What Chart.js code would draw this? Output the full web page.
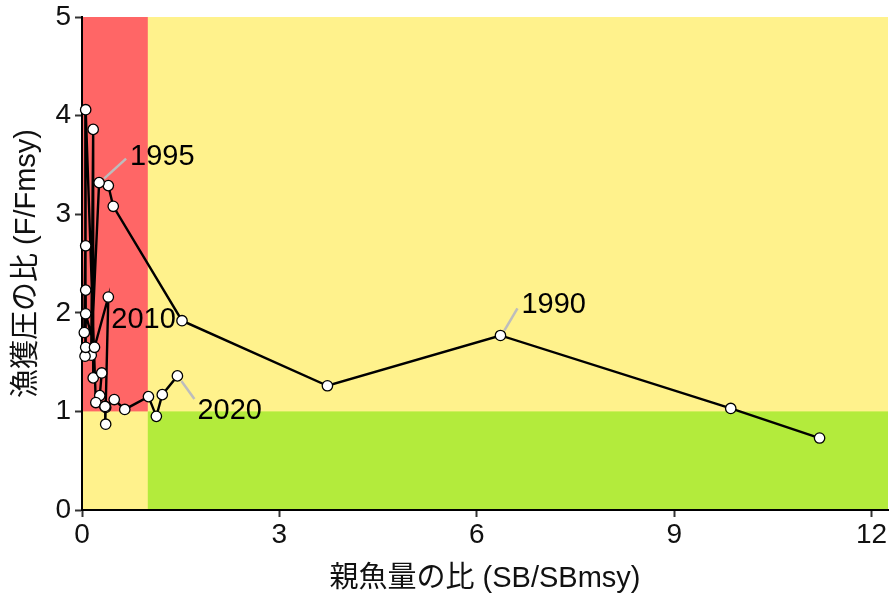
<!DOCTYPE html>
<html><head><meta charset="utf-8">
<script src="https://cdn.jsdelivr.net/npm/chart.js@4"></script>
<style>html,body{margin:0;padding:0;background:#fff}#wrap{width:889px;height:599px}</style>
</head><body><div id="wrap"><canvas id="c" width="889" height="599"></canvas></div>
<script>
const years = [1988,1989,1990,1991,1992,1993,1994,1995,1996,1997,1998,1999,2000,2001,2002,2003,2004,2005,2006,2007,2008,2009,2010,2011,2012,2013,2014,2015,2016,2017,2018,2019,2020];
const sbRatio = [11.21,9.86,6.36,3.73,1.52,0.475,0.40,0.26,0.14,0.17,0.17,0.30,0.27,0.21,0.056,0.046,0.056,0.035,0.056,0.056,0.056,0.19,0.40,0.36,0.35,0.36,0.35,0.49,0.65,1.01,1.13,1.22,1.45];
const fRatio  = [0.73,1.03,1.77,1.26,1.92,3.08,3.29,3.32,1.57,3.86,1.34,1.39,1.16,1.09,4.06,1.56,2.68,1.80,2.23,1.65,1.99,1.65,2.16,1.04,1.05,0.87,1.05,1.12,1.02,1.15,0.95,1.17,1.36];
const xTicks = [0,3,6,9,12];
const yTicks = [0,1,2,3,4,5];
const labelYears = [1990,1995,2010,2020];
const xTitle = '親魚量の比 (SB/SBmsy)';
const yTitle = '漁獲圧の比 (F/Fmsy)';

const FONT = '"Liberation Sans", Arial, "Noto Sans CJK JP", sans-serif';
const pts = sbRatio.map((x,i)=>({x:x,y:fRatio[i]}));

const zones = {
  id:'zones',
  beforeDraw(chart){
    const {ctx, chartArea:a, scales:{x,y}} = chart;
    ctx.save();
    ctx.fillStyle = '#FFF28C';
    ctx.fillRect(a.left, a.top, a.right-a.left, a.bottom-a.top);
    ctx.fillStyle = '#FF6666';
    ctx.fillRect(x.getPixelForValue(0), y.getPixelForValue(5), x.getPixelForValue(1)-x.getPixelForValue(0), y.getPixelForValue(1)-y.getPixelForValue(5));
    ctx.fillStyle = '#B3EB3C';
    ctx.fillRect(x.getPixelForValue(1), y.getPixelForValue(1), a.right-x.getPixelForValue(1), y.getPixelForValue(0)-y.getPixelForValue(1));
    ctx.restore();
  }
};

const labels = {
  id:'yearLabels',
  afterDatasetsDraw(chart){
    const {ctx, scales:{x,y}} = chart;
    const offs = {1990:{lx:[4,-5,17,-27], tx:21,ty:-30}, 1995:{lx:[5,-4,27,-24], tx:31,ty:-26}, 2010:{lx:null, tx:3,ty:23}, 2020:{lx:[4,5,17,23], tx:20,ty:35}};
    ctx.save();
    ctx.font = '29px ' + FONT;
    ctx.textBaseline = 'middle';
    ctx.textAlign = 'left';
    labelYears.forEach(yr=>{
      const i = years.indexOf(yr);
      const px = x.getPixelForValue(sbRatio[i]);
      const py = y.getPixelForValue(fRatio[i]);
      const o = offs[yr];
      if (o.lx){
        ctx.strokeStyle = '#BDBDBD';
        ctx.lineWidth = 2.5;
        ctx.beginPath();
        ctx.moveTo(px+o.lx[0], py+o.lx[1]);
        ctx.lineTo(px+o.lx[2], py+o.lx[3]);
        ctx.stroke();
      }
      ctx.fillStyle = '#000';
      ctx.fillText(String(yr), px+o.tx, py+o.ty);
    });
    ctx.restore();
  }
};

new Chart(document.getElementById('c'), {
  type:'scatter',
  data:{datasets:[{
    data: pts,
    showLine:true,
    borderColor:'#000',
    borderWidth:2.4,
    tension:0,
    pointRadius:5.2,
    pointBorderWidth:1.3,
    pointBackgroundColor:'#fff',
    pointBorderColor:'#000',
    clip:false
  }]},
  options:{
    responsive:false,
    animation:false,
    layout:{autoPadding:false, padding:{top:17,right:1,left:0,bottom:0}},
    plugins:{legend:{display:false}, tooltip:{enabled:false}},
    scales:{
      x:{
        type:'linear', min:0, max:12.25,
        afterBuildTicks(s){ s.ticks = xTicks.map(v=>({value:v})); },
        afterFit(s){ s.height = 89; s.paddingLeft = 0; s.paddingRight = 0; },
        grid:{drawOnChartArea:false, drawTicks:true, tickLength:7, tickWidth:2, color:'#333'},
        border:{display:true, color:'#000', width:2},
        ticks:{color:'#111', font:{family:FONT, size:28}, padding:1, maxRotation:0},
        title:{display:true, text:xTitle, color:'#111', font:{family:FONT, size:29}, padding:{top:0,bottom:3}}
      },
      y:{
        type:'linear', min:0, max:5,
        afterBuildTicks(s){ s.ticks = yTicks.map(v=>({value:v})); },
        afterFit(s){ s.width = 82; s.paddingTop = 0; s.paddingBottom = 0; },
        grid:{drawOnChartArea:false, drawTicks:true, tickLength:7, tickWidth:2, color:'#333'},
        border:{display:true, color:'#000', width:2},
        ticks:{color:'#111', font:{family:FONT, size:28}, padding:4},
        title:{display:true, text:yTitle, color:'#111', font:{family:FONT, size:29}, padding:{top:10,bottom:0}}
      }
    }
  },
  plugins:[zones, labels]
});
</script></body></html>
